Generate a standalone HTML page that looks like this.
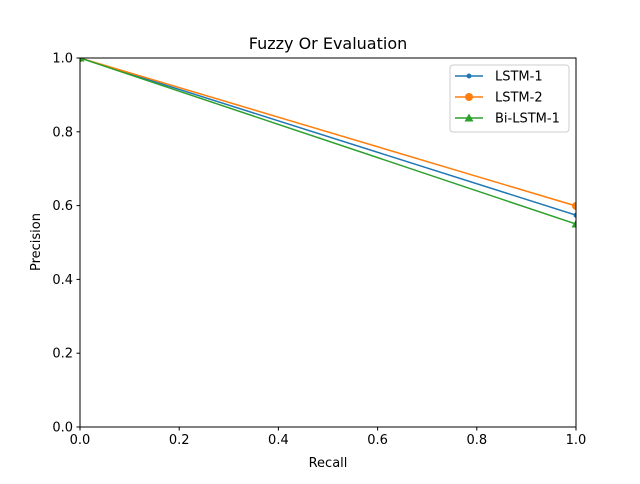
<!DOCTYPE html>
<html><head><meta charset="utf-8"><style>
body{margin:0;background:#fff;font-family:"DejaVu Sans","Liberation Sans",sans-serif}
</style></head><body>
<svg id="c" width="640" height="480" xmlns="http://www.w3.org/2000/svg">
<rect width="640" height="480" fill="#fff"/>
<text x="328" y="49" text-anchor="middle" font-size="16">Fuzzy Or Evaluation</text>
<g id="plot"></g>
</svg>
<script>
const recall = [0, 1];
const lstm1 = [1.0, 0.574];
const lstm2 = [1.0, 0.599];
const bilstm1 = [1.0, 0.55];
const ticks = [0, 0.2, 0.4, 0.6, 0.8, 1.0];
const tickLabels = ["0.0","0.2","0.4","0.6","0.8","1.0"];
const seriesNames = ["LSTM-1","LSTM-2","Bi-LSTM-1"];
const L=80,R=576,T=58,B=427;
const sx=v=>L+(R-L)*v, sy=v=>B-(B-T)*v;
const NS="http://www.w3.org/2000/svg";
const g=document.getElementById('plot');
function el(t,a,p){const e=document.createElementNS(NS,t);for(const k in a)e.setAttribute(k,a[k]);(p||g).appendChild(e);return e;}
const series=[{d:lstm1,c:"#1f77b4",m:"dot"},{d:lstm2,c:"#ff7f0e",m:"circle"},{d:bilstm1,c:"#2ca02c",m:"tri"}];
function marker(m,x,y,c){
  let e;
  if(m==="dot") e=el('circle',{cx:x,cy:y,r:2.5,fill:c});
  else if(m==="circle") e=el('circle',{cx:x,cy:y,r:4,fill:c});
  else e=el('polygon',{points:`${x},${y-4.5} ${x-4.5},${y+3.5} ${x+4.5},${y+3.5}`,fill:c});
  return e;
}
const clip=el('clipPath',{id:'cp'});el('rect',{x:L,y:T,width:R-L,height:B-T},clip);
const sg=el('g',{'clip-path':'url(#cp)'});
series.forEach((s,i)=>{
  const pl=el('polyline',{points:recall.map((r,j)=>sx(r)+','+sy(s.d[j])).join(' '),fill:'none',stroke:s.c,'stroke-width':1.5},sg);
  
  
  recall.forEach((r,j)=>{const m=marker(s.m,sx(r),sy(s.d[j]),s.c);sg.appendChild(m);
    
    });
});
el('rect',{x:L,y:T,width:R-L,height:B-T,fill:'none',stroke:'#000','stroke-width':1});
ticks.forEach((t,i)=>{
  el('line',{x1:sx(t),x2:sx(t),y1:B,y2:B+3.5,stroke:'#000'});
  const tx=el('text',{x:sx(t),y:B+17,'text-anchor':'middle','font-size':13});tx.textContent=tickLabels[i];
  
  
  el('line',{x1:L-3.5,x2:L,y1:sy(t),y2:sy(t),stroke:'#000'});
  const ty=el('text',{x:L-7,y:sy(t)+4.5,'text-anchor':'end','font-size':13});ty.textContent=tickLabels[i];
  
  
});
const xt=el('text',{x:328,y:467,'text-anchor':'middle','font-size':13});xt.textContent='Recall';


const yt=el('text',{x:40,y:242,'text-anchor':'middle','font-size':13,transform:'rotate(-90 40 242)'});yt.textContent='Precision';


const lg=el('g',{});


el('rect',{x:450,y:65,width:119,height:67,rx:3,fill:'#fff',stroke:'#ccc'},lg);
series.forEach((s,i)=>{
  const y=76+i*21;
  el('line',{x1:455,x2:483,y1:y,y2:y,stroke:s.c,'stroke-width':1.5},lg);
  lg.appendChild(marker(s.m,469,y,s.c));
  const t=el('text',{x:495,y:y+4.5,'font-size':13},lg);t.textContent=seriesNames[i];
  
  
});
</script>
</body></html>
